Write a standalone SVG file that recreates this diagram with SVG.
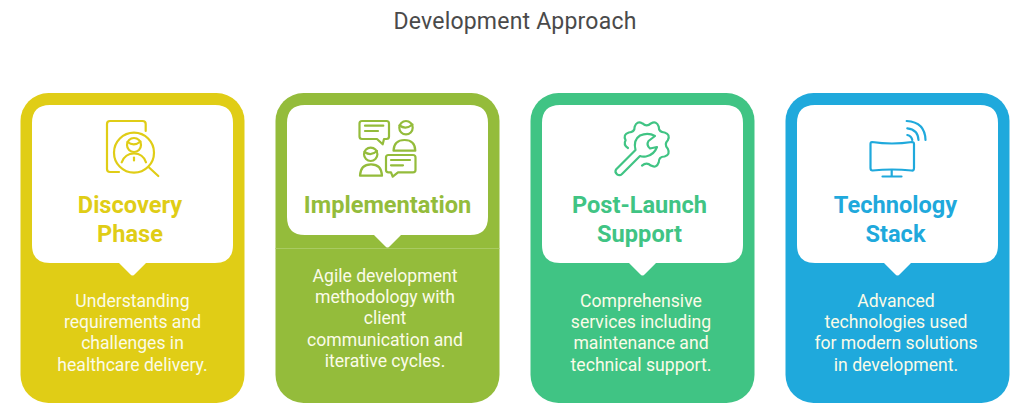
<svg xmlns="http://www.w3.org/2000/svg" width="1024" height="420" viewBox="0 0 1024 420">
<style>
text{font-family:Roboto,"Liberation Sans",sans-serif;text-anchor:middle}
.title{font-size:23px;fill:#4a4a4a;letter-spacing:.2px}
.head{font-size:23.6px;font-weight:700}
.body{font-size:17.6px;fill:#fbfbe8}
.panel{fill:#fff}
.icon{fill:none;stroke-width:2.200;stroke-linecap:round;stroke-linejoin:round}
.yellow{fill:#e0cd16}.green{fill:#94bc3b}.teal{fill:#40c484}.blue{fill:#1fa9dc}
.s-yellow{stroke:#e0cd16}.s-green{stroke:#94bc3b}.s-teal{stroke:#40c484}.s-blue{stroke:#1fa9dc}
</style>
<rect width="1024" height="420" fill="#fff"/>
<text class="title" x="515" y="29">Development Approach</text>
<g id="connectors"></g>

<g id="discovery-phase">
<rect class="yellow" x="20.5" y="93" width="224" height="310" rx="28"/>
<path class="panel" d="M50,105H215Q233,105 233,123V245Q233,263 215,263H146L135,274Q132.500,277 130,274L119,263H50Q32,263 32,245V123Q32,105 50,105Z"/>
<g class="icon s-yellow">
<path d="M145.700,131V124Q145.700,121 142.500,121H110Q107,121 107,124V169Q107,172 110,172H119"/>
<circle cx="134" cy="152.700" r="20"/>
<path d="M148.500,167L158.300,176"/>
<circle cx="134" cy="145" r="7"/>
<path d="M127.500,142Q134,147 140.500,141.500"/>
<path d="M121.700,162.300Q125,153.500 134,153.500Q143,153.500 146,162.300"/>
<path d="M134,157.500V160.500"/>
</g>
<text class="head yellow" x="130" y="213">Discovery</text>
<text class="head yellow" x="130" y="241.700">Phase</text>
<text class="body" x="132.500" y="306.700">Understanding</text>
<text class="body" x="132.500" y="328">requirements and</text>
<text class="body" x="132.500" y="349.300">challenges in</text>
<text class="body" x="132.500" y="370.600">healthcare delivery.</text>
</g>

<g id="implementation">
<rect class="green" x="275.500" y="93" width="224" height="310" rx="28"/>
<path d="M275.500,248.500H499.500" stroke="#a9cb62" stroke-width="1" fill="none"/>
<path class="panel" d="M305,105H470Q488,105 488,123V217Q488,235 470,235H401L390,246Q387.500,249 385,246L374,235H305Q287,235 287,217V123Q287,105 305,105Z"/>
<g class="icon s-green">
<path d="M362,121H386.500Q389,121 389,123.500V136.500Q389,139 386.500,139H384L382.700,144.300L377,139H362Q359.500,139 359.500,136.500V123.500Q359.500,121 362,121Z"/>
<path d="M365,125.700H383.300M365,131H378"/>
<circle cx="406" cy="127.700" r="6.700"/>
<path d="M399.500,125.500Q406,130 412.500,124.500"/>
<path d="M393.500,150.700Q394,140 404.500,140Q415,140 415.300,150.700Z"/>
<circle cx="370.700" cy="154.300" r="6.700"/>
<path d="M364.500,152Q371,156.500 377,151"/>
<path d="M360,175.700Q360.500,164.300 371,164.300Q381.500,164.300 382,175.700Z"/>
<path d="M388.500,155H413Q415.500,155 415.500,157.500V170Q415.500,172.300 413,172.300H398L392.700,176.700L391,172.300H388.500Q386,172.300 386,170V157.500Q386,155 388.500,155Z"/>
<path d="M391,160H410M391,165.300H403"/>
</g>
<text class="head green" x="387.500" y="213">Implementation</text>
<text class="body" x="385" y="281.700">Agile development</text>
<text class="body" x="385" y="303">methodology with</text>
<text class="body" x="385" y="324.300">client</text>
<text class="body" x="385" y="345.600">communication and</text>
<text class="body" x="385" y="366.900">iterative cycles.</text>
</g>

<g id="post-launch-support">
<rect class="teal" x="530.500" y="93" width="224" height="310" rx="28"/>
<path class="panel" d="M560,105H725Q743,105 743,123V245Q743,263 725,263H656L645,274Q642.500,277 640,274L629,263H560Q542,263 542,245V123Q542,105 560,105Z"/>
<g class="icon s-teal">
<path d="M628,148Q623,145 625.600,140.300Q622.700,134.500 628.800,132.500Q634.700,132.500 634.700,126.600Q636.700,120.500 642.500,123.400Q646.700,127.500 650.900,123.400Q656.700,120.500 658.700,126.600Q658.700,132.500 664.600,132.500Q670.700,134.500 667.800,140.300Q663.700,144.500 667.800,148.700Q670.700,154.500 664.600,156.500Q658.700,156.500 658.700,162.400Q656.700,168.500 650.900,165.600Q646.700,161.500 642,165.600"/>
<path d="M616,169.500L635.500,150Q633,140 640,135.500Q648,132 655,136L648.500,141Q646,145 650,148.500L657,147Q654,155 646,156.500Q642,157 640,156L622,174A3.800,3.800 0 0 1 616,169.500Z"/>
</g>
<text class="head teal" x="639.500" y="213">Post-Launch</text>
<text class="head teal" x="639.500" y="241.700">Support</text>
<text class="body" x="641" y="306.700">Comprehensive</text>
<text class="body" x="641" y="328">services including</text>
<text class="body" x="641" y="349.300">maintenance and</text>
<text class="body" x="641" y="370.600">technical support.</text>
</g>

<g id="technology-stack">
<rect class="blue" x="785.500" y="93" width="224" height="310" rx="28"/>
<path class="panel" d="M815,105H980Q998,105 998,123V245Q998,263 980,263H911L900,274Q897.500,277 895,274L884,263H815Q797,263 797,245V123Q797,105 815,105Z"/>
<g class="icon s-blue">
<path d="M872,142Q892,145 912,142Q914,142 914,144V168Q914,171 911.500,170.500Q892,168.500 872.500,170.500Q870.500,170.500 870.500,168V144Q870.500,142 872,142Z"/>
<path d="M891.700,170V176M882.500,176.500H901.500"/>
<path d="M906.700,121Q925,122 925.500,140M907.300,128.300Q918,129.500 918.500,140M907.300,135Q911.500,136 912.300,140"/>
</g>
<text class="head blue" x="895.500" y="213">Technology</text>
<text class="head blue" x="895.500" y="241.700">Stack</text>
<text class="body" x="896" y="306.700">Advanced</text>
<text class="body" x="896" y="328">technologies used</text>
<text class="body" x="896" y="349.300">for modern solutions</text>
<text class="body" x="896" y="370.600">in development.</text>
</g>
</svg>
